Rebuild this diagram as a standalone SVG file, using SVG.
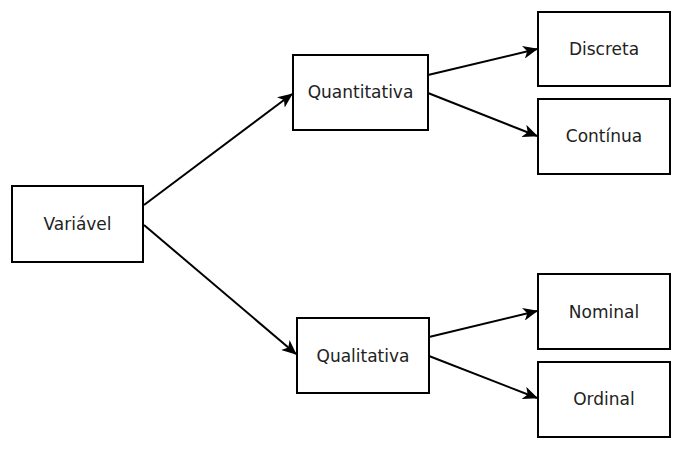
<svg xmlns="http://www.w3.org/2000/svg" width="684" height="450" viewBox="0 0 684 450">
<style>
.box{fill:#fff;stroke:#000;stroke-width:2}
.lbl{font-family:"DejaVu Sans",sans-serif;font-size:17px;fill:#222;text-anchor:middle}
.edge{stroke:#000;stroke-width:2;fill:none;marker-end:url(#arr)}
</style>
<defs>
<marker id="arr" markerUnits="userSpaceOnUse" viewBox="0 0 15 13" refX="14" refY="6.5" markerWidth="15" markerHeight="13" orient="auto">
<path d="M0,0 L15,6.5 L0,13 L4,6.5 z" fill="#000"/>
</marker>
</defs>
<rect width="684" height="450" fill="#fff"/>
<g id="connectors">
<line class="edge" x1="144" y1="205" x2="292" y2="94"/>
<line class="edge" x1="144" y1="225" x2="296" y2="354"/>
<line class="edge" x1="428" y1="75" x2="537" y2="49"/>
<line class="edge" x1="428" y1="93" x2="537" y2="136"/>
<line class="edge" x1="429" y1="337" x2="537" y2="311"/>
<line class="edge" x1="429" y1="356" x2="537" y2="398"/>
</g>
<g id="variavel"><rect class="box" x="12" y="186" width="131" height="76"/><text class="lbl" x="77.5" y="230">Variável</text></g>
<g id="quantitativa"><rect class="box" x="293" y="55" width="135" height="75"/><text class="lbl" x="360.5" y="98">Quantitativa</text></g>
<g id="qualitativa"><rect class="box" x="297" y="318" width="132" height="75"/><text class="lbl" x="363" y="362">Qualitativa</text></g>
<g id="discreta"><rect class="box" x="538" y="12" width="132" height="74"/><text class="lbl" x="604" y="55">Discreta</text></g>
<g id="continua"><rect class="box" x="538" y="99" width="132" height="75"/><text class="lbl" x="604" y="142">Contínua</text></g>
<g id="nominal"><rect class="box" x="538" y="274" width="132" height="75"/><text class="lbl" x="604" y="318">Nominal</text></g>
<g id="ordinal"><rect class="box" x="538" y="362" width="132" height="75"/><text class="lbl" x="604" y="405">Ordinal</text></g>
</svg>
